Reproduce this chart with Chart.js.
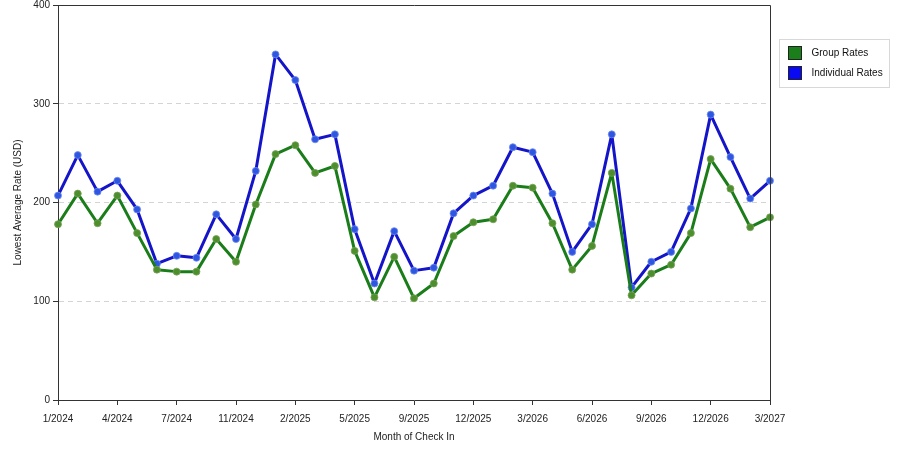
<!DOCTYPE html>
<html>
<head>
<meta charset="utf-8">
<script src="https://cdn.jsdelivr.net/npm/chart.js@4"></script>
<style>
  body { margin: 0; background: #fff; }
  #wrap { width: 900px; height: 450px; }
</style>
</head>
<body>
<div id="wrap"><canvas id="myChart" width="900" height="450"></canvas></div>
<script>
const months = [
  "1/2024", "2/2024", "3/2024", "4/2024", "5/2024", "6/2024", "7/2024",
  "8/2024", "10/2024", "11/2024", "12/2024", "1/2025", "2/2025", "3/2025",
  "4/2025", "5/2025", "6/2025", "8/2025", "9/2025", "10/2025", "11/2025",
  "12/2025", "1/2026", "2/2026", "3/2026", "4/2026", "5/2026", "6/2026",
  "7/2026", "8/2026", "9/2026", "10/2026", "11/2026", "12/2026", "1/2027",
  "2/2027", "3/2027",
];
const groupRates = [
  178, 209, 179, 207, 169, 132, 130, 130, 163, 140, 198, 249, 258, 230,
  237, 151, 104, 145, 103, 118, 166, 180, 183, 217, 215, 179, 132, 156,
  230, 106, 128, 137, 169, 244, 214, 175, 185,
];
const individualRates = [
  207, 248, 211, 222, 193, 138, 146, 144, 188, 163, 232, 350, 324, 264,
  269, 173, 118, 171, 131, 134, 189, 207, 217, 256, 251, 209, 150, 178,
  269, 114, 140, 150, 194, 289, 246, 204, 222,
];
const seriesNames = ["Group Rates", "Individual Rates"];
const lineColors = ["#1a7d1a", "#1414c8"];
const pointColors = ["#4c8f2c", "#2f56e0"];
const swatchColors = ["#1a7f1a", "#0a0af2"];

const FONT = "'Liberation Sans', Arial, sans-serif";
Chart.defaults.font.family = FONT;
Chart.defaults.font.size = 10;
Chart.defaults.color = "#222";

// frame around plot + legend box
const framePlugin = {
  id: "frame",
  afterDraw(chart) {
    const { ctx, chartArea: a } = chart;
    ctx.save();
    ctx.strokeStyle = "#333";
    ctx.lineWidth = 1;
    ctx.beginPath();
    ctx.moveTo(a.left, a.top + 0.5);
    ctx.lineTo(a.right + 0.5, a.top + 0.5);
    ctx.lineTo(a.right + 0.5, a.bottom);
    ctx.stroke();

    // legend
    const lx = 779.5, ly = 39.5, lw = 110, lh = 48;
    ctx.strokeStyle = "#d8d8d8";
    ctx.strokeRect(lx, ly, lw, lh);
    ctx.font = "10px " + FONT;
    ctx.textBaseline = "middle";
    seriesNames.forEach((name, i) => {
      const sy = ly + 7 + i * 20;
      ctx.fillStyle = swatchColors[i];
      ctx.fillRect(lx + 9, sy, 13, 13);
      ctx.strokeStyle = "#222";
      ctx.strokeRect(lx + 9, sy, 13, 13);
      ctx.fillStyle = "#111";
      ctx.fillText(name, lx + 32, sy + 7);
    });
    ctx.restore();
  },
};

new Chart("myChart", {
  type: "line",
  data: {
    labels: months,
    datasets: [
      {
        label: seriesNames[0],
        data: groupRates,
        borderColor: lineColors[0],
        backgroundColor: pointColors[0],
        pointBackgroundColor: pointColors[0],
        pointBorderColor: "rgba(120,160,90,0.8)",
        borderWidth: 3,
        borderJoinStyle: "round",
        pointRadius: 3.5,
        pointBorderWidth: 1,
        tension: 0,
      },
      {
        label: seriesNames[1],
        data: individualRates,
        borderColor: lineColors[1],
        backgroundColor: pointColors[1],
        pointBackgroundColor: pointColors[1],
        pointBorderColor: "rgba(110,140,240,0.8)",
        borderWidth: 3,
        borderJoinStyle: "round",
        pointRadius: 3.5,
        pointBorderWidth: 1,
        tension: 0,
      },
    ],
  },
  options: {
    responsive: false,
    animation: false,
    layout: { padding: { top: 5, right: 130, bottom: 0, left: 0 } },
    plugins: {
      legend: { display: false },
      tooltip: { enabled: false },
    },
    scales: {
      x: {
        offset: false,
        afterFit(scale) { scale.height = 50; },
        grid: {
          drawOnChartArea: false,
          tickLength: 5,
          tickColor: "#333",
        },
        border: { color: "#333", width: 1 },
        ticks: {
          autoSkip: false,
          maxRotation: 0,
          padding: 8,
          color: "#222",
          callback(v, i) { return i % 3 === 0 ? months[i] : null; },
        },
        title: {
          display: true,
          text: "Month of Check In",
          color: "#222",
          padding: { top: 4, bottom: 7 },
        },
      },
      y: {
        min: 0,
        max: 400,
        afterFit(scale) {
          scale.width = 58;
          scale.paddingTop = 0;
        },
        ticks: { stepSize: 100, padding: 3, color: "#222" },
        grid: {
          color: (c) => (c.tick && (c.tick.value === 0 || c.tick.value === 400) ? "rgba(0,0,0,0)" : "#d4d4d4"),
          tickColor: "#333",
          tickLength: 5,
        },
        border: { color: "#333", width: 1, dash: [5, 4] },
        title: {
          display: true,
          text: "Lowest Average Rate (USD)",
          color: "#222",
          padding: { top: 12, bottom: 4 },
        },
      },
    },
  },
  plugins: [framePlugin],
});
</script>
</body>
</html>
